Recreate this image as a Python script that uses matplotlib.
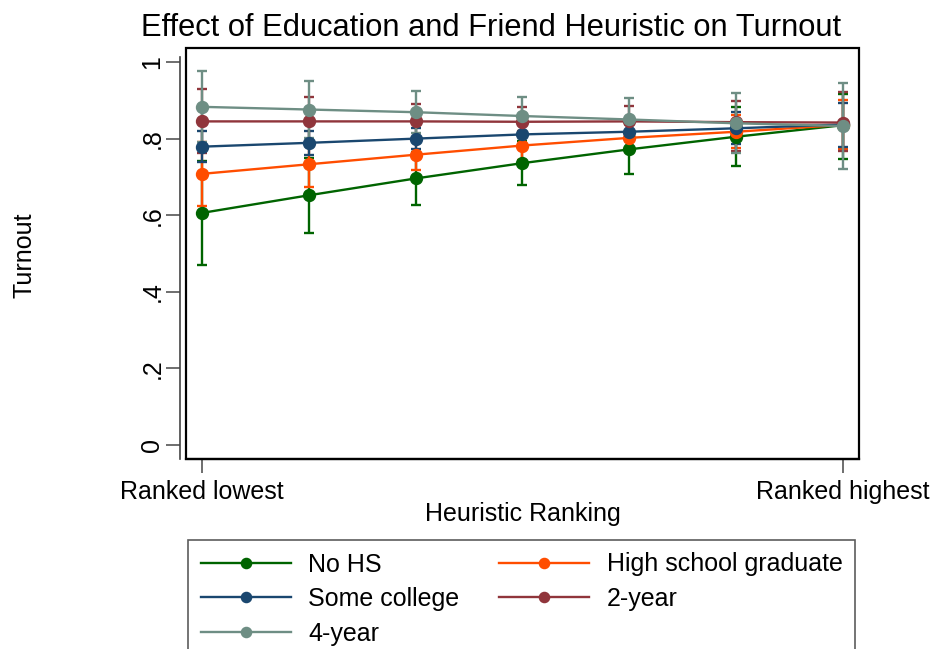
import matplotlib.pyplot as plt
from matplotlib.patches import Rectangle

plt.rcParams['font.family'] = ['Liberation Sans', 'DejaVu Sans']

# heuristic ranking positions, lowest to highest
rank = [1, 2, 3, 4, 5, 6, 7]
rank_ticks = [1, 7]
rank_labels = ["Ranked lowest", "Ranked highest"]

groups = ["No HS", "High school graduate", "Some college", "2-year", "4-year"]
colors = ["#006400", "#ff4d00", "#1a476f", "#90353b", "#6e8e84"]

# predicted turnout and 95% confidence bounds per education group
nohs = [0.606, 0.652, 0.696, 0.736, 0.772, 0.805, 0.835]
nohs_lo = [0.471, 0.554, 0.627, 0.678, 0.707, 0.728, 0.746]
nohs_hi = [0.741, 0.750, 0.765, 0.794, 0.837, 0.882, 0.917]

hs = [0.708, 0.733, 0.758, 0.782, 0.802, 0.818, 0.836]
hs_lo = [0.624, 0.674, 0.717, 0.745, 0.765, 0.775, 0.772]
hs_hi = [0.792, 0.792, 0.799, 0.819, 0.839, 0.861, 0.901]

some = [0.779, 0.789, 0.800, 0.811, 0.818, 0.827, 0.837]
some_lo = [0.739, 0.757, 0.772, 0.785, 0.795, 0.785, 0.779]
some_hi = [0.819, 0.821, 0.828, 0.837, 0.841, 0.869, 0.894]

two = [0.845, 0.845, 0.845, 0.844, 0.845, 0.843, 0.842]
two_lo = [0.763, 0.780, 0.799, 0.805, 0.805, 0.767, 0.767]
two_hi = [0.929, 0.910, 0.891, 0.883, 0.885, 0.899, 0.922]

four = [0.883, 0.876, 0.869, 0.859, 0.850, 0.840, 0.833]
four_lo = [0.790, 0.802, 0.814, 0.809, 0.794, 0.763, 0.720]
four_hi = [0.976, 0.950, 0.924, 0.909, 0.906, 0.920, 0.944]

series = [(nohs, nohs_lo, nohs_hi), (hs, hs_lo, hs_hi), (some, some_lo, some_hi),
          (two, two_lo, two_hi), (four, four_lo, four_hi)]

yticks = [0, 0.2, 0.4, 0.6, 0.8, 1]
ytick_labels = ["0", ".2", ".4", ".6", ".8", "1"]

FS = 18

fig = plt.figure(figsize=(9.35, 6.49), dpi=100)
ax = fig.add_axes([0.1989, 0.2928, 0.7198, 0.6332])

# confidence intervals first, then the connected lines on top
for (mid, lo, hi), c in zip(series, colors):
    err = [[m - l for m, l in zip(mid, lo)], [h - m for m, h in zip(mid, hi)]]
    ax.errorbar(rank, mid, yerr=err, fmt='none', ecolor=c, elinewidth=1.7,
                capsize=3.8, capthick=1.7)
for (mid, lo, hi), c, name in zip(series, colors, groups):
    ax.plot(rank, mid, '-o', color=c, lw=1.7, markersize=8.6, label=name)

ax.set_xlim(0.85, 7.15)
ax.set_ylim(-0.0366, 1.0366)

# frame around the plot region, y axis line set slightly apart
ax.add_patch(Rectangle((0, 0), 1, 1, transform=ax.transAxes, fill=False,
                       lw=1.6, edgecolor='black', clip_on=False, zorder=5))
for s in ['top', 'right']:
    ax.spines[s].set_visible(False)
ax.spines['bottom'].set_linewidth(1.6)
ax.spines['left'].set_position(('outward', 4))
ax.spines['left'].set_bounds(-0.0366, 1.013)
ax.spines['left'].set_color('#444444')
ax.spines['left'].set_linewidth(1.2)

ax.set_xticks(rank_ticks)
ax.set_xticklabels(rank_labels, fontsize=FS)
ax.set_yticks(yticks)
ax.set_yticklabels(ytick_labels, fontsize=FS, rotation=90, va='center')
ax.tick_params(axis='both', length=10, width=1.2, color='#555555')
ax.tick_params(axis='x', pad=5)
ax.tick_params(axis='y', pad=1.5)

ax.set_xlabel("Heuristic Ranking", fontsize=FS, labelpad=-1.5)
fig.text(25 / 935, 1 - 255 / 649, "Turnout", rotation=90, fontsize=FS,
         ha='center', va='center')
fig.text(491.5 / 935, 1 - 28 / 649, "Effect of Education and Friend Heuristic on Turnout",
         fontsize=22.2, ha='center', va='center')

handles, labels = ax.get_legend_handles_labels()
order = [0, 2, 4, 1, 3]
leg = fig.legend([handles[i] for i in order], [labels[i] for i in order],
                 loc='upper left', bbox_to_anchor=(188 / 935, 1 - 540 / 649),
                 borderaxespad=0, ncol=2, fontsize=FS, frameon=True, fancybox=False,
                 handlelength=3.6, handletextpad=0.72, columnspacing=1.56,
                 labelspacing=0.42, borderpad=0.5, markerscale=0.85)
leg.get_frame().set_edgecolor('#333333')
leg.get_frame().set_linewidth(1.2)

fig.savefig("out.png", dpi=100)
